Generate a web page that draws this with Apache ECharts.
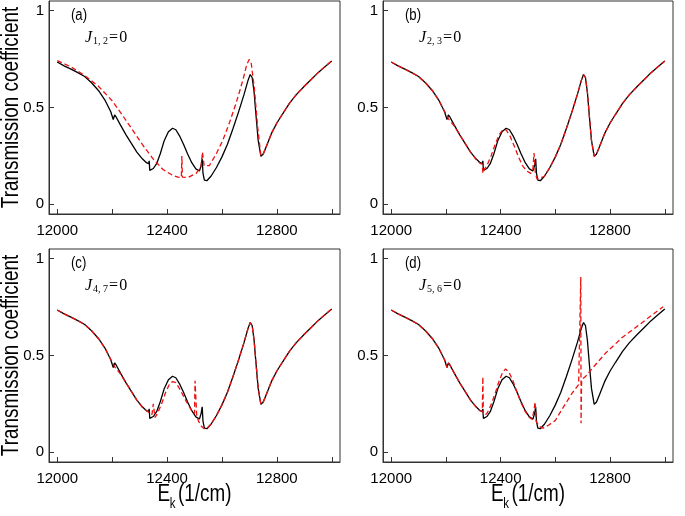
<!DOCTYPE html>
<html>
<head>
<meta charset="utf-8">
<script src="https://cdn.jsdelivr.net/npm/echarts@6/dist/echarts.min.js"></script>
<style>
html,body{margin:0;padding:0;background:#fff;}
#chart{width:685px;height:516px;}
</style>
</head>
<body>
<div id="chart"></div>
<script>
// ---- tick / label values ----
const xTicks = [12000, 12200, 12400, 12600, 12800, 13000];
const xLabels = [12000, 12400, 12800];
const yLabels = [0, 0.5, 1];
const panelTags = ['(a)', '(b)', '(c)', '(d)'];
const jSubs = ['1, 2', '2, 3', '4, 7', '5, 6'];

// ---- full system (black solid), same in all panels ----
const blackX = [12000,12025,12050,12075,12100,12125,12150,12175,12195,12204,12209,12215,12230,12250,12270,12290,12310,12325,12333,12335,12337,12350,12362,12375,12390,12405,12420,12432,12445,12460,12475,12490,12505,12518,12524,12528,12531,12536,12545,12560,12580,12600,12620,12640,12660,12680,12695,12703,12710,12717,12724,12732,12742,12750,12762,12780,12800,12820,12845,12870,12900,12925,12950,12975,13000];
const blackY = [0.735,0.715,0.698,0.68,0.66,0.628,0.588,0.535,0.478,0.438,0.462,0.45,0.41,0.36,0.315,0.27,0.235,0.215,0.21,0.225,0.175,0.185,0.21,0.26,0.33,0.375,0.393,0.385,0.355,0.31,0.26,0.215,0.183,0.172,0.2,0.235,0.16,0.125,0.122,0.145,0.19,0.245,0.31,0.39,0.475,0.565,0.64,0.67,0.655,0.58,0.46,0.33,0.248,0.258,0.3,0.365,0.42,0.465,0.52,0.565,0.61,0.645,0.68,0.71,0.74];

// ---- (a) J12 = 0 ----
const redAX = [12000,12050,12100,12150,12200,12240,12276,12312,12349,12385,12420,12440,12452,12454,12456,12476,12506,12524,12529,12535,12554,12579,12603,12627,12651,12676,12690,12699,12706,12718,12730,12742,12750,12762,12780,12800,12820,12845,12870,12900,12925,12950,12975,13000];
const redAY = [0.742,0.71,0.665,0.61,0.535,0.455,0.38,0.305,0.235,0.18,0.15,0.14,0.138,0.25,0.14,0.138,0.16,0.195,0.27,0.2,0.2,0.26,0.33,0.42,0.52,0.64,0.72,0.748,0.735,0.6,0.4,0.25,0.258,0.3,0.365,0.42,0.465,0.52,0.565,0.61,0.645,0.68,0.71,0.742];

// ---- (b) J23 = 0 ----
const redBX = [12000,12025,12050,12075,12100,12125,12150,12175,12195,12210,12230,12250,12270,12290,12310,12325,12333,12335,12340,12350,12365,12380,12395,12408,12420,12435,12450,12465,12480,12495,12510,12518,12522,12527,12533,12540,12560,12580,12600,12620,12640,12660,12680,12695,12703,12710,12717,12724,12732,12742,12750,12762,12780,12800,12820,12845,12870,12900,12925,12950,12975,13000];
const redBY = [0.735,0.715,0.698,0.68,0.66,0.628,0.588,0.535,0.48,0.44,0.405,0.36,0.315,0.27,0.232,0.212,0.208,0.16,0.18,0.2,0.25,0.31,0.36,0.385,0.385,0.35,0.3,0.245,0.2,0.172,0.16,0.18,0.265,0.16,0.13,0.122,0.145,0.19,0.245,0.31,0.39,0.475,0.565,0.64,0.67,0.655,0.58,0.46,0.33,0.248,0.258,0.3,0.365,0.42,0.465,0.52,0.565,0.61,0.645,0.68,0.71,0.74];

// ---- (c) J47 = 0 ----
const redCX = [12000,12025,12050,12075,12100,12125,12150,12175,12195,12210,12230,12250,12270,12290,12310,12325,12335,12345,12350,12353,12356,12365,12380,12395,12410,12420,12432,12445,12460,12475,12490,12500,12502,12508,12515,12525,12535,12545,12560,12580,12600,12620,12640,12660,12680,12695,12703,12710,12717,12724,12732,12742,12750,12762,12780,12800,12820,12845,12870,12900,12925,12950,12975,13000];
const redCY = [0.735,0.715,0.698,0.68,0.66,0.628,0.588,0.535,0.48,0.44,0.405,0.36,0.315,0.27,0.232,0.215,0.205,0.195,0.25,0.25,0.18,0.2,0.25,0.31,0.355,0.365,0.36,0.33,0.29,0.25,0.215,0.2,0.37,0.19,0.16,0.135,0.122,0.122,0.145,0.19,0.245,0.31,0.39,0.475,0.565,0.64,0.67,0.655,0.58,0.46,0.33,0.248,0.258,0.3,0.365,0.42,0.465,0.52,0.565,0.61,0.645,0.68,0.71,0.74];

// ---- (d) J56 = 0 ----
const redDX = [12000,12025,12050,12075,12100,12125,12150,12175,12195,12204,12209,12215,12230,12250,12270,12290,12310,12325,12333,12335,12337,12350,12365,12380,12395,12408,12418,12430,12445,12460,12475,12490,12505,12516,12522,12526,12530,12540,12555,12575,12600,12630,12661,12685,12692,12693,12694,12696,12709,12733,12782,12842,12903,12950,12994];
const redDY = [0.735,0.715,0.698,0.68,0.66,0.628,0.588,0.535,0.478,0.438,0.462,0.45,0.41,0.36,0.315,0.27,0.235,0.215,0.21,0.39,0.19,0.2,0.245,0.305,0.37,0.415,0.43,0.415,0.37,0.31,0.255,0.21,0.18,0.17,0.22,0.26,0.16,0.135,0.125,0.14,0.165,0.235,0.305,0.35,0.36,0.905,0.15,0.375,0.39,0.43,0.51,0.59,0.655,0.705,0.752];

const redXs = [redAX, redBX, redCX, redDX];
const redYs = [redAY, redBY, redCY, redDY];

const pairs = (xs, ys) => xs.map((x, i) => [x, ys[i]]);
const SANS = "'Liberation Sans', Arial, sans-serif";
const SERIF = "'Liberation Serif', 'DejaVu Serif', serif";
const NARROW = 0.82;

const gridPos = [
  {left: 49, top: 1, width: 291, height: 213},
  {left: 383, top: 1, width: 290, height: 213},
  {left: 49, top: 249, width: 291, height: 213},
  {left: 383, top: 249, width: 290, height: 213}
];

const grid = gridPos.map(g => Object.assign({show: true, borderColor: '#333', borderWidth: 1, backgroundColor: 'transparent'}, g));
const xAxis = gridPos.map((g, i) => ({
  type: 'value', gridIndex: i, min: 11970, max: 13030,
  axisLine: {show: true, onZero: false, lineStyle: {color: '#333', width: 1}},
  axisTick: {show: true, inside: true, length: 5, customValues: xTicks, lineStyle: {color: '#333'}},
  axisLabel: {customValues: xLabels, fontSize: 15, color: '#000', margin: 9, fontFamily: SANS,
    formatter: v => String(v)},
  splitLine: {show: false}
}));
const yAxis = gridPos.map((g, i) => ({
  type: 'value', gridIndex: i, min: -0.05, max: 1.05,
  axisLine: {show: true, onZero: false, lineStyle: {color: '#333', width: 1}},
  axisTick: {show: true, inside: true, length: 5, customValues: yLabels, lineStyle: {color: '#333'}},
  axisLabel: {customValues: yLabels, fontSize: 15, color: '#000', margin: 5, fontFamily: SANS,
    formatter: v => String(v)},
  splitLine: {show: false}
}));

const series = [];
for (let i = 0; i < 4; i++) {
  series.push({type: 'line', xAxisIndex: i, yAxisIndex: i, data: pairs(blackX, blackY),
    showSymbol: false, symbol: 'none', lineStyle: {color: '#000', width: 1.3}, z: 2, animation: false});
  series.push({type: 'line', xAxisIndex: i, yAxisIndex: i, data: pairs(redXs[i], redYs[i]),
    showSymbol: false, symbol: 'none', lineStyle: {color: '#ee1111', width: 1.3, type: [5, 3]}, z: 3, animation: false});
}

const graphic = [];
gridPos.forEach((g, i) => {
  graphic.push({type: 'text', x: g.left + 22, y: g.top + 7, scaleX: NARROW,
    style: {text: panelTags[i], font: '16px ' + SANS, fill: '#000'}});
  graphic.push({type: 'text', x: g.left + 36, y: g.top + 27,
    style: {text: '{j|J}{s|' + jSubs[i] + '}{e|=}{z|0}', fill: '#000',
      rich: {
        j: {fontFamily: SERIF, fontStyle: 'italic', fontSize: 16, verticalAlign: 'bottom', lineHeight: 18},
        s: {fontFamily: SERIF, fontSize: 10, verticalAlign: 'bottom', lineHeight: 13, padding: [0, 1, 0, 1]},
        e: {fontFamily: SERIF, fontSize: 16, verticalAlign: 'bottom', lineHeight: 18, padding: [0, 1, 0, 0]},
        z: {fontFamily: SERIF, fontSize: 16, verticalAlign: 'bottom', lineHeight: 18}
      }}});
});
// y axis titles
[0, 2].forEach(i => {
  const g = gridPos[i];
  graphic.push({type: 'text', x: 12, y: g.top + g.height / 2, rotation: Math.PI / 2, scaleX: NARROW,
    style: {text: 'Transmission coefficient', font: '23px ' + SANS, fill: '#000', align: 'center', verticalAlign: 'middle'}});
});
// x axis titles
[2, 3].forEach(i => {
  const g = gridPos[i];
  const cx = g.left + g.width / 2;
  graphic.push({type: 'group', x: cx - 37, y: 483, scaleX: NARROW, children: [
    {type: 'text', x: 0, y: 0, style: {text: 'E', font: '23px ' + SANS, fill: '#000'}},
    {type: 'text', x: 15, y: 14, style: {text: 'k', font: '14px ' + SANS, fill: '#000'}},
    {type: 'text', x: 25, y: 0, style: {text: '(1/cm)', font: '23px ' + SANS, fill: '#000'}}
  ]});
});

const chart = echarts.init(document.getElementById('chart'));
chart.setOption({backgroundColor: '#fff', animation: false, grid, xAxis, yAxis, series, graphic});
</script>
</body>
</html>
